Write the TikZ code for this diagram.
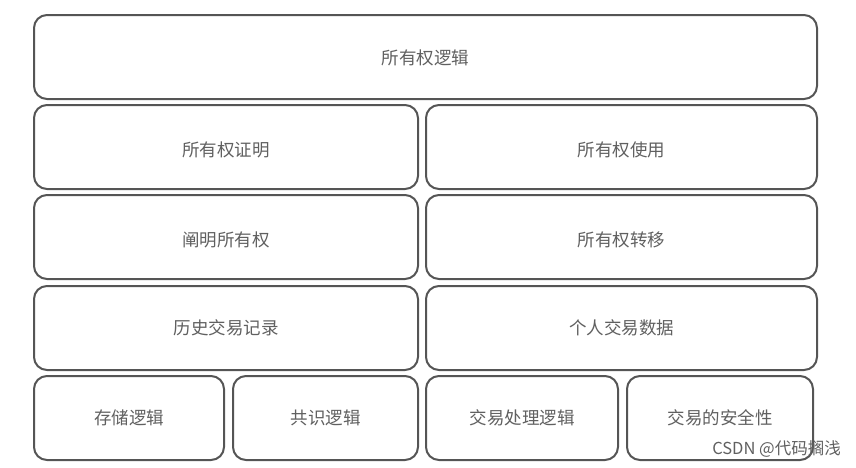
\documentclass[tikz,border=0pt]{standalone}
\usepackage{fontspec}
\newfontfamily\cjk{Noto Sans CJK SC}
\definecolor{edge}{HTML}{555555}
\definecolor{txt}{HTML}{606060}
\tikzset{
  blk/.style={draw=edge, line width=2pt, rounded corners=13pt, fill=white},
  lbl/.style={font=\cjk\fontsize{17.5}{20}\selectfont, text=txt},
}
\begin{document}
\begin{tikzpicture}[x=1pt,y=-1pt]
\useasboundingbox (0,0) rectangle (856,467);
% boxes
\draw[blk] (34,15) rectangle (817,99);
\node[lbl] (top) at (425.5,58) {所有权逻辑};
\draw[blk] (34,105) rectangle (418,189);
\node[lbl] (a1) at (226,150) {所有权证明};
\draw[blk] (426,105) rectangle (817,189);
\node[lbl] (b1) at (621.5,150) {所有权使用};
\draw[blk] (34,195) rectangle (418,279);
\node[lbl] (a2) at (226,240) {阐明所有权};
\draw[blk] (426,195) rectangle (817,279);
\node[lbl] (b2) at (621.5,240) {所有权转移};
\draw[blk] (34,286) rectangle (418,370);
\node[lbl] (a3) at (226,328) {历史交易记录};
\draw[blk] (426,286) rectangle (817,370);
\node[lbl] (b3) at (621.5,328) {个人交易数据};
\draw[blk] (34,376) rectangle (224,460);
\node[lbl] (c1) at (129,418) {存储逻辑};
\draw[blk] (233,376) rectangle (418,460);
\node[lbl] (c2) at (325.5,418) {共识逻辑};
\draw[blk] (426,376) rectangle (618,460);
\node[lbl] (c3) at (522,418) {交易处理逻辑};
\draw[blk] (627,376) rectangle (813,460);
\node[lbl] (c4) at (720,418) {交易的安全性};
\node[font=\cjk\fontsize{16.5}{18}\selectfont, text=txt, anchor=east, inner sep=0pt] (wm) at (841,449) {CSDN @代码搁浅};
\end{tikzpicture}
\end{document}
